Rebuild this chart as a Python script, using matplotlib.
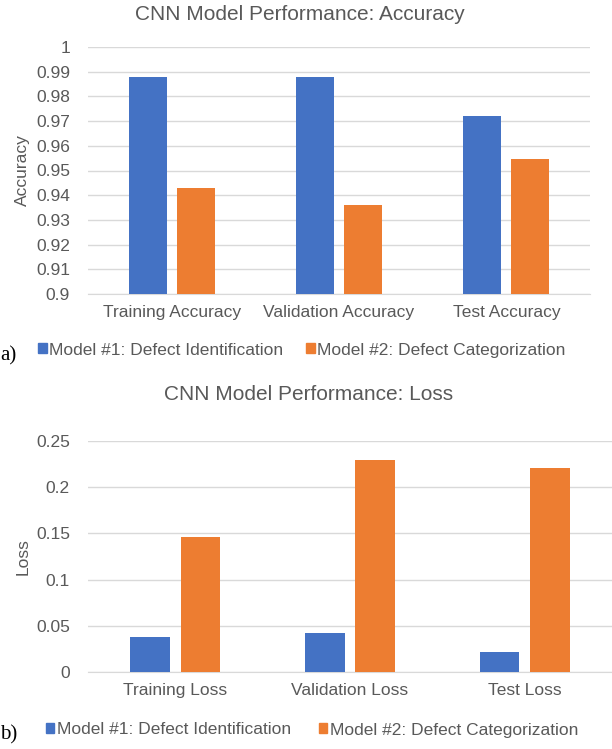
import matplotlib
matplotlib.use("Agg")
import matplotlib.pyplot as plt
import numpy as np
from matplotlib.patches import Patch

acc_cats = ["Training Accuracy", "Validation Accuracy", "Test Accuracy"]
acc_model1 = [0.988, 0.988, 0.972]
acc_model2 = [0.943, 0.936, 0.9545]

loss_cats = ["Training Loss", "Validation Loss", "Test Loss"]
loss_model1 = [0.038, 0.0425, 0.022]
loss_model2 = [0.146, 0.229, 0.221]

series_names = ["Model #1: Defect Identification", "Model #2: Defect Categorization"]
blue = "#4472c4"
orange = "#ed7d31"
grey = "#595959"
gridc = "#d9d9d9"

plt.rcParams['font.family'] = ['Liberation Sans', 'DejaVu Sans']

fig = plt.figure(figsize=(6.12, 7.49), dpi=100)
W, H = 612, 749

def px_axes(x0, y0, x1, y1):
    return fig.add_axes([x0 / W, 1 - y1 / H, (x1 - x0) / W, (y1 - y0) / H])

def draw(ax, cats, v1, v2, ylim, yticks, ticklabels, ylabel):
    x = np.arange(len(cats))
    w = 0.227
    off = 0.144
    ax.bar(x - off, v1, w, color=blue, zorder=3)
    ax.bar(x + off, v2, w, color=orange, zorder=3)
    ax.set_xlim(-0.5, len(cats) - 0.5)
    ax.set_ylim(*ylim)
    ax.set_yticks(yticks)
    ax.set_yticklabels(ticklabels)
    ax.set_xticks(x)
    ax.set_xticklabels(cats)
    ax.grid(axis='y', color=gridc, linewidth=1, zorder=0)
    for s in ['top', 'right', 'left']:
        ax.spines[s].set_visible(False)
    ax.spines['bottom'].set_color(gridc)
    ax.tick_params(length=0, colors=grey, labelsize=12.5)
    ax.tick_params(axis='x', pad=8)
    ax.tick_params(axis='y', pad=13)
    ax.set_ylabel(ylabel, color=grey, fontsize=12.5, labelpad=4)

handles = [Patch(color=blue, label=series_names[0]), Patch(color=orange, label=series_names[1])]

# (a) accuracy
ax1 = px_axes(88, 47, 590, 294)
acc_ticks = np.round(np.arange(0.90, 1.001, 0.01), 2)
acc_labels = ["1" if t == 1 else f"{t:g}" for t in acc_ticks]
draw(ax1, acc_cats, acc_model1, acc_model2, (0.9, 1.0), acc_ticks, acc_labels, "Accuracy")
fig.text(300 / W, 1 - 15 / H, "CNN Model Performance: Accuracy", color=grey, fontsize=15,
         ha='center', va='center')
fig.legend(handles=handles, loc='center', bbox_to_anchor=(302 / W, 1 - 350 / H), ncol=2,
           frameon=False, fontsize=12.5, handlelength=0.5, handleheight=0.5,
           handletextpad=0.15, columnspacing=1.3, labelcolor=grey)
fig.text(0.0, 1 - 356 / H, "a)", fontsize=15, family='Liberation Serif', va='center')

# (b) loss
ax2 = px_axes(88, 441, 612, 672)
loss_ticks = [0, 0.05, 0.1, 0.15, 0.2, 0.25]
loss_labels = [f"{t:g}" for t in loss_ticks]
draw(ax2, loss_cats, loss_model1, loss_model2, (0, 0.25), loss_ticks, loss_labels, "Loss")
fig.text(309 / W, 1 - 394 / H, "CNN Model Performance: Loss", color=grey, fontsize=15,
         ha='center', va='center')
fig.legend(handles=handles, loc='center', bbox_to_anchor=(312 / W, 1 - 730 / H), ncol=2,
           frameon=False, fontsize=12.5, handlelength=0.5, handleheight=0.5,
           handletextpad=0.15, columnspacing=1.6, labelcolor=grey)
fig.text(0.0, 1 - 735 / H, "b)", fontsize=15, family='Liberation Serif', va='center')

fig.savefig("out.png", dpi=100)
